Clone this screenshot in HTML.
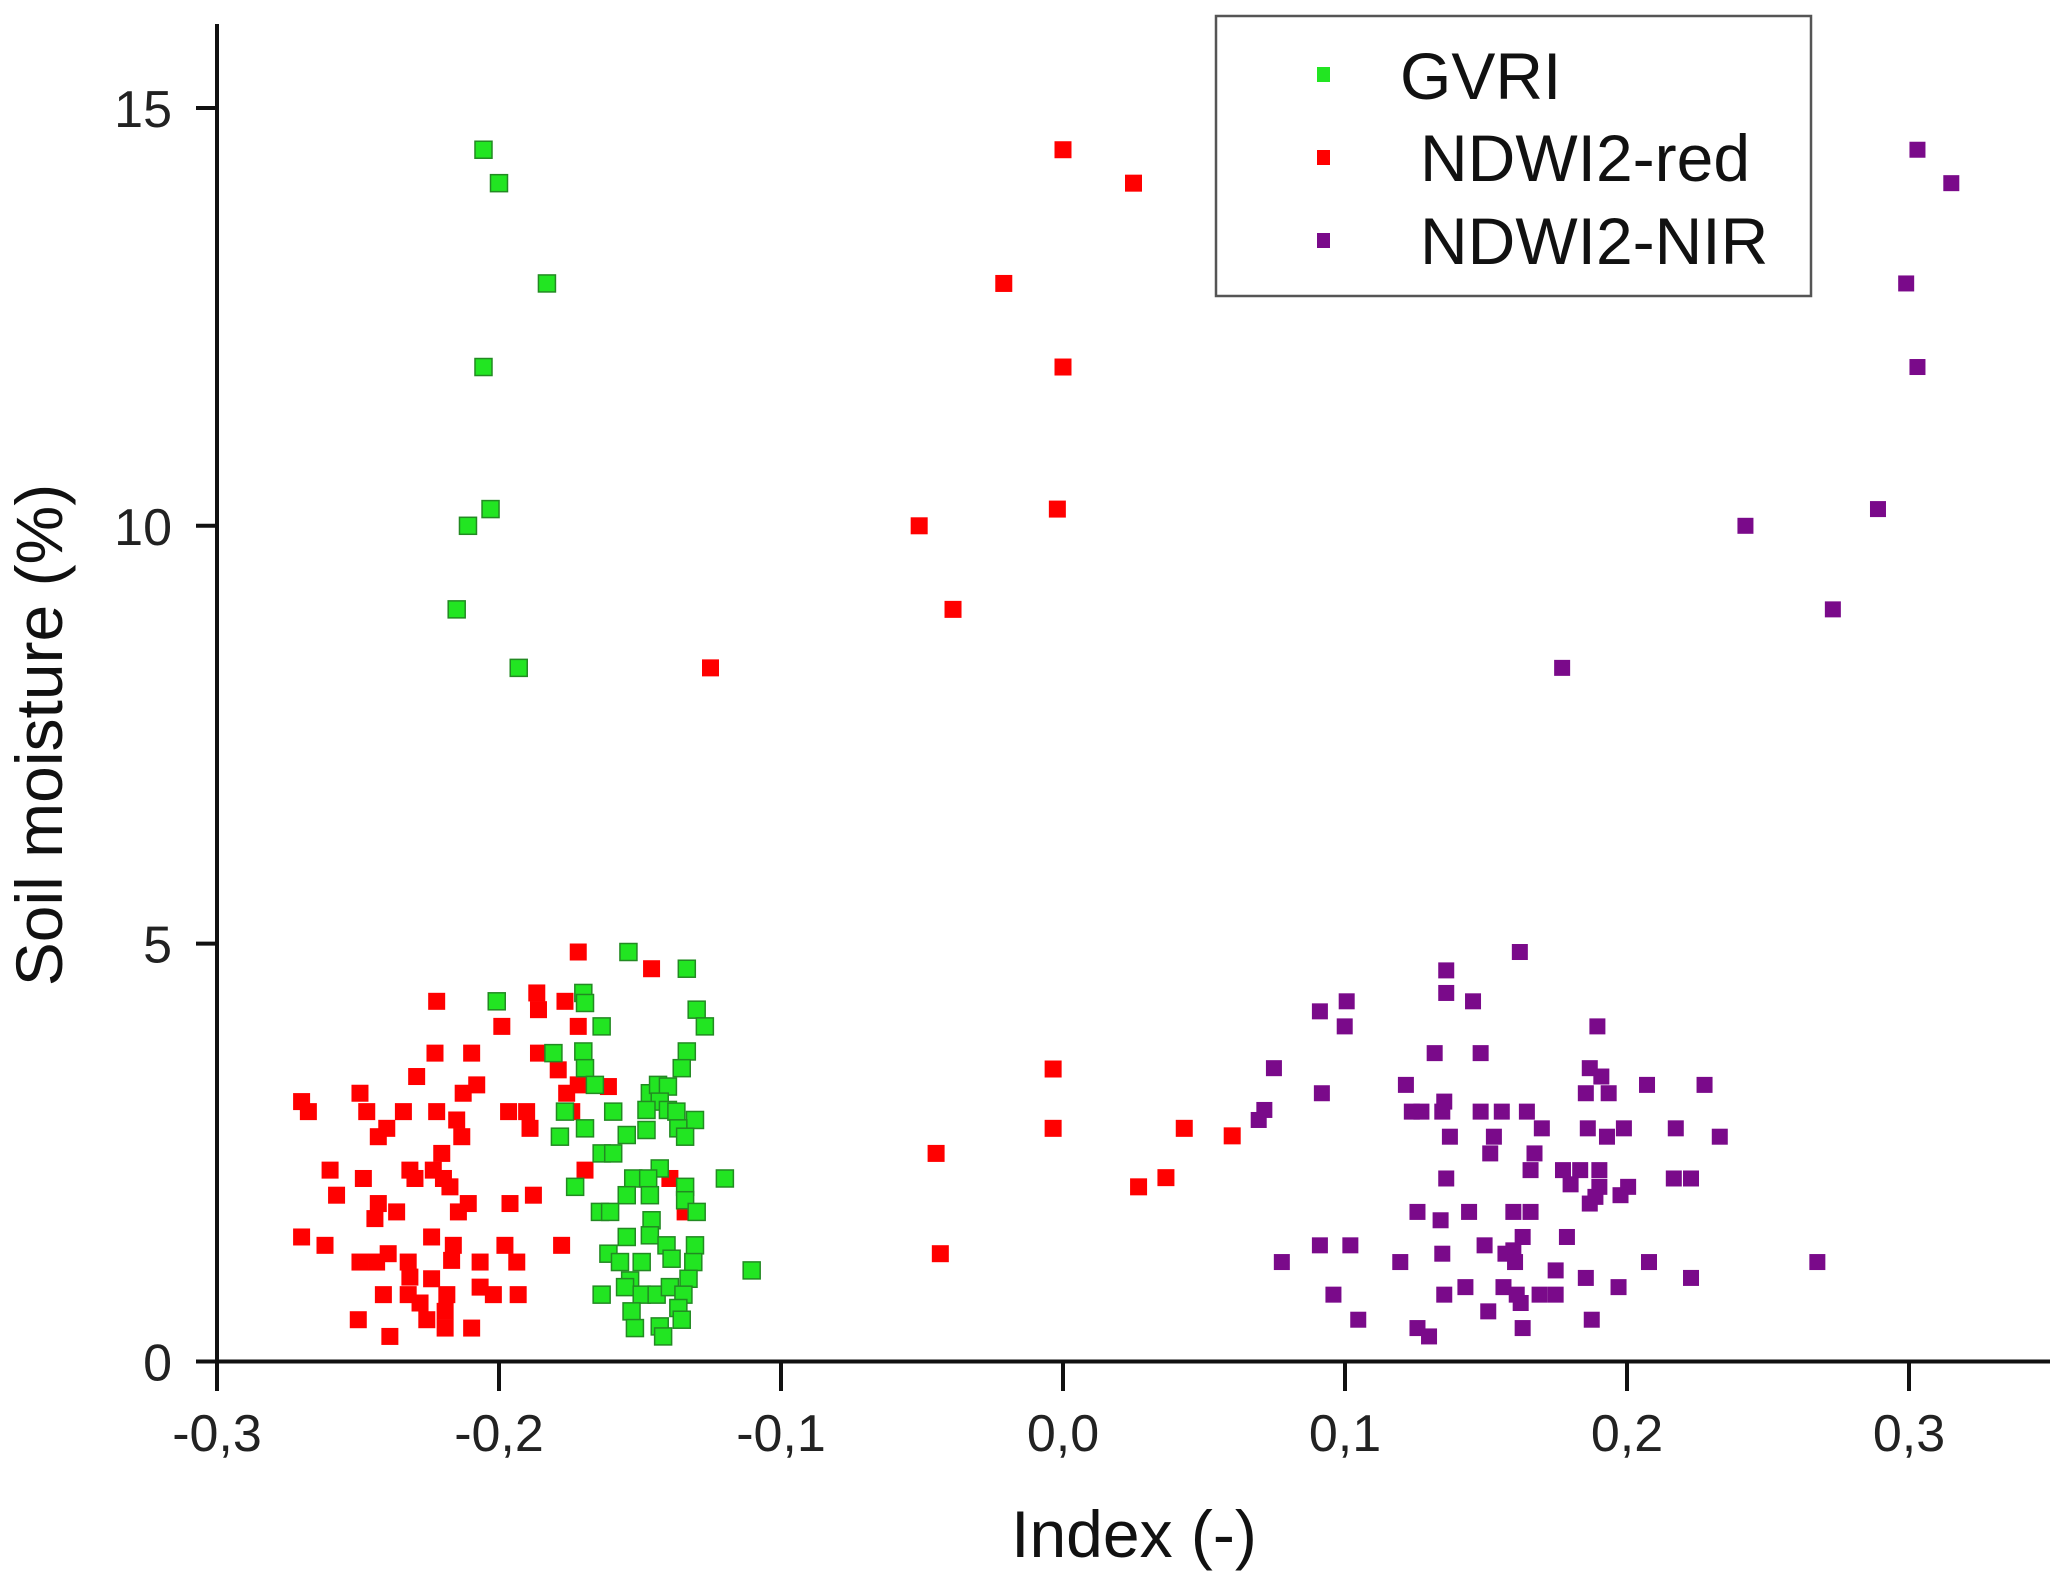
<!DOCTYPE html>
<html><head><meta charset="utf-8"><style>
html,body{margin:0;padding:0;background:#fff;}
svg{display:block;font-family:"Liberation Sans",Arial,sans-serif;}
</style></head><body>
<svg id="chart" width="2056" height="1584" viewBox="0 0 2056 1584" xmlns="http://www.w3.org/2000/svg">
<g id="marks"></g>
<g id="axes"></g>
<g>
  <rect x="1216" y="16" width="595" height="280" fill="#fff" stroke="#555" stroke-width="2.5"/>
  <rect x="1317" y="67" width="13" height="15" fill="#22e522"/>
  <text x="1400" y="99" font-size="66" fill="#111">GVRI</text>
  <rect x="1317" y="150" width="13" height="15" fill="#ff0000"/>
  <text x="1420" y="181" font-size="66" fill="#111">NDWI2-red</text>
  <rect x="1317" y="233" width="13" height="15" fill="#7a0a8a"/>
  <text x="1420" y="264" font-size="66" fill="#111">NDWI2-NIR</text>
</g>
<text x="1134" y="1557" font-size="66" text-anchor="middle" fill="#111">Index (-)</text>
<text transform="translate(62,735) rotate(-90)" font-size="66" text-anchor="middle" fill="#111">Soil moisture (%)</text>
</svg>
<script>
const xTicks = [-0.3,-0.2,-0.1,0.0,0.1,0.2,0.3];
const xTickLabels = ["-0,3","-0,2","-0,1","0,0","0,1","0,2","0,3"];
const yTicks = [0,5,10,15];
const yTickLabels = ["0","5","10","15"];

const gvriX = [-0.2055,-0.200,-0.183,-0.2055,-0.203,-0.211,-0.215,-0.193,
-0.1541,-0.1334,-0.2008,-0.1701,-0.1695,-0.1299,-0.1270,-0.1636,-0.1807,-0.1701,-0.1334,-0.1352,-0.1695,-0.1660,-0.1465,-0.1436,-0.1401,-0.1430,-0.1477,-0.1401,-0.1371,-0.1305,-0.1595,-0.1766,-0.1695,-0.1547,-0.1477,-0.1364,-0.1340,-0.1784,-0.1636,-0.1595,-0.1430,-0.1524,-0.1471,-0.1199,-0.1730,-0.1547,-0.1465,-0.1340,-0.1340,-0.1642,-0.1606,-0.1299,-0.1459,-0.1465,-0.1547,-0.1406,-0.1305,-0.1612,-0.1571,-0.1494,-0.1388,-0.1311,-0.1104,-0.1535,-0.1328,-0.1553,-0.1636,-0.1494,-0.1441,-0.1394,-0.1346,-0.1530,-0.1364,-0.1352,-0.1518,-0.1430,-0.1418];
const gvriY = [14.5,14.1,12.9,11.9,10.2,10.0,9.0,8.3,
4.90,4.70,4.31,4.41,4.29,4.21,4.01,4.01,3.69,3.71,3.71,3.51,3.51,3.31,3.21,3.31,3.29,3.11,3.01,3.01,2.99,2.89,2.99,2.99,2.79,2.71,2.77,2.79,2.69,2.69,2.49,2.49,2.31,2.19,2.19,2.19,2.09,1.99,1.99,2.09,1.93,1.79,1.79,1.79,1.69,1.51,1.49,1.39,1.39,1.29,1.19,1.19,1.23,1.19,1.09,0.97,0.99,0.89,0.80,0.80,0.80,0.89,0.80,0.60,0.64,0.50,0.40,0.42,0.30];

const redX = [0.0,0.025,-0.021,0.0,-0.002,-0.051,-0.039,-0.125,
-0.0035,-0.0035,-0.045,-0.0435,0.0268,0.0365,0.043,0.060,
-0.1719,-0.1459,-0.2221,-0.1866,-0.1860,-0.1766,-0.1990,-0.1719,-0.2227,-0.2097,-0.1860,-0.1790,-0.2292,-0.2079,-0.2127,-0.1719,-0.1612,-0.1760,-0.2700,-0.2676,-0.2493,-0.2469,-0.2339,-0.2221,-0.2150,-0.2132,-0.2398,-0.2428,-0.1966,-0.1902,-0.1890,-0.1742,-0.2203,-0.2599,-0.2481,-0.2316,-0.2298,-0.2233,-0.2197,-0.2174,-0.1695,-0.1394,-0.2576,-0.2428,-0.2440,-0.2363,-0.2144,-0.2109,-0.1961,-0.1878,-0.1340,-0.2700,-0.2617,-0.2239,-0.2162,-0.1979,-0.1778,-0.2493,-0.2434,-0.2393,-0.2322,-0.2168,-0.2067,-0.1937,-0.2316,-0.2239,-0.2410,-0.2322,-0.2280,-0.2185,-0.2067,-0.2020,-0.1932,-0.2499,-0.2256,-0.2191,-0.2191,-0.2097,-0.2387];
const redY = [14.5,14.1,12.9,11.9,10.2,10.0,9.0,8.3,
3.50,2.79,2.49,1.29,2.09,2.20,2.79,2.70,
4.90,4.70,4.31,4.41,4.21,4.31,4.01,4.01,3.69,3.69,3.69,3.49,3.41,3.31,3.21,3.31,3.29,3.21,3.11,2.99,3.21,2.99,2.99,2.99,2.89,2.69,2.79,2.69,2.99,2.99,2.79,2.99,2.49,2.29,2.19,2.29,2.19,2.29,2.19,2.09,2.29,2.19,1.99,1.89,1.71,1.79,1.79,1.89,1.89,1.99,1.79,1.49,1.39,1.49,1.39,1.39,1.39,1.19,1.19,1.29,1.19,1.21,1.19,1.19,1.01,0.99,0.80,0.80,0.70,0.80,0.89,0.80,0.80,0.50,0.50,0.60,0.40,0.40,0.30];

const nirX = [0.303,0.315,0.299,0.303,0.289,0.242,0.273,0.177,
0.1620,0.1359,0.1359,0.1454,0.1006,0.0911,0.0999,0.1895,0.1318,0.1481,0.0748,0.1868,0.1909,0.1216,0.0918,0.1854,0.1935,0.2071,0.2275,0.0714,0.0694,0.1237,0.1271,0.1352,0.1345,0.1481,0.1556,0.1645,0.1698,0.1861,0.1929,0.1989,0.2173,0.2329,0.1372,0.1528,0.1515,0.1672,0.1658,0.1773,0.1834,0.1902,0.1800,0.1902,0.2004,0.1977,0.1868,0.1888,0.2166,0.2227,0.1359,0.1257,0.1339,0.1440,0.1597,0.1658,0.1787,0.1630,0.1495,0.1597,0.1569,0.1603,0.0911,0.1019,0.0776,0.1196,0.1345,0.1747,0.2078,0.2675,0.1854,0.1970,0.2227,0.0959,0.1352,0.1427,0.1562,0.1609,0.1623,0.1690,0.1747,0.1508,0.1047,0.1875,0.1257,0.1298,0.1630];
const nirY = [14.5,14.1,12.9,11.9,10.2,10.0,9.0,8.3,
4.90,4.68,4.41,4.31,4.31,4.19,4.01,4.01,3.69,3.69,3.51,3.51,3.41,3.31,3.21,3.21,3.21,3.31,3.31,3.01,2.89,2.99,2.99,3.11,2.99,2.99,2.99,2.99,2.79,2.79,2.69,2.79,2.79,2.69,2.69,2.69,2.49,2.49,2.29,2.29,2.29,2.29,2.12,2.09,2.09,1.99,1.89,1.97,2.19,2.19,2.19,1.79,1.69,1.79,1.79,1.79,1.49,1.49,1.39,1.33,1.29,1.19,1.39,1.39,1.19,1.19,1.29,1.09,1.19,1.19,1.00,0.89,1.00,0.80,0.80,0.89,0.89,0.80,0.70,0.80,0.80,0.60,0.50,0.50,0.40,0.30,0.40];

const X0 = 217, XPER = 2820;
const Y0 = 1361.5, YPER = 83.57;
function xs(v){ return X0 + (v + 0.3) * XPER; }
function ys(v){ return Y0 - v * YPER; }

const NS = "http://www.w3.org/2000/svg";
const marks = document.getElementById('marks');
const axes = document.getElementById('axes');

function drawSeries(xArr, yArr, fill, stroke, size, name){
  const g = document.createElementNS(NS,'g');
  
  
  for(let i=0;i<xArr.length;i++){
    const r = document.createElementNS(NS,'rect');
    r.setAttribute('x', xs(xArr[i]) - size/2);
    r.setAttribute('y', ys(yArr[i]) - size/2);
    r.setAttribute('width', size);
    r.setAttribute('height', size);
    r.setAttribute('fill', fill);
    if(stroke){ r.setAttribute('stroke', stroke); r.setAttribute('stroke-width', '1.5'); }
    
    
    g.appendChild(r);
  }
  marks.appendChild(g);
}
drawSeries(redX, redY, '#ff0000', null, 17, 'ndwi2-red');
drawSeries(nirX, nirY, '#7a0a8a', null, 16, 'ndwi2-nir');
drawSeries(gvriX, gvriY, '#22e522', '#228a22', 17, 'gvri');

function line(x1,y1,x2,y2,w,name){
  const l = document.createElementNS(NS,'line');
  l.setAttribute('x1',x1); l.setAttribute('y1',y1);
  l.setAttribute('x2',x2); l.setAttribute('y2',y2);
  l.setAttribute('stroke','#111'); l.setAttribute('stroke-width',w);
  
  
  axes.appendChild(l);
}
line(197, Y0, 2050, Y0, 4, 'x-axis-line');
line(X0, 24, X0, Y0+1, 4, 'y-axis-line');

xTicks.forEach((t,i)=>{
  line(xs(t), Y0, xs(t), 1391, 4, 'x-tick');
  const tx = document.createElementNS(NS,'text');
  tx.setAttribute('x', xs(t)); tx.setAttribute('y', 1451);
  tx.setAttribute('font-size','52'); tx.setAttribute('text-anchor','middle');
  tx.setAttribute('fill','#222');
  
  
  tx.textContent = xTickLabels[i];
  axes.appendChild(tx);
});
yTicks.forEach((t,i)=>{
  line(196, ys(t), X0, ys(t), 4, 'y-tick');
  const tx = document.createElementNS(NS,'text');
  tx.setAttribute('x', 172); tx.setAttribute('y', ys(t)+19);
  tx.setAttribute('font-size','52'); tx.setAttribute('text-anchor','end');
  tx.setAttribute('fill','#222');
  
  
  tx.textContent = yTickLabels[i];
  axes.appendChild(tx);
});
</script>
</body></html>
